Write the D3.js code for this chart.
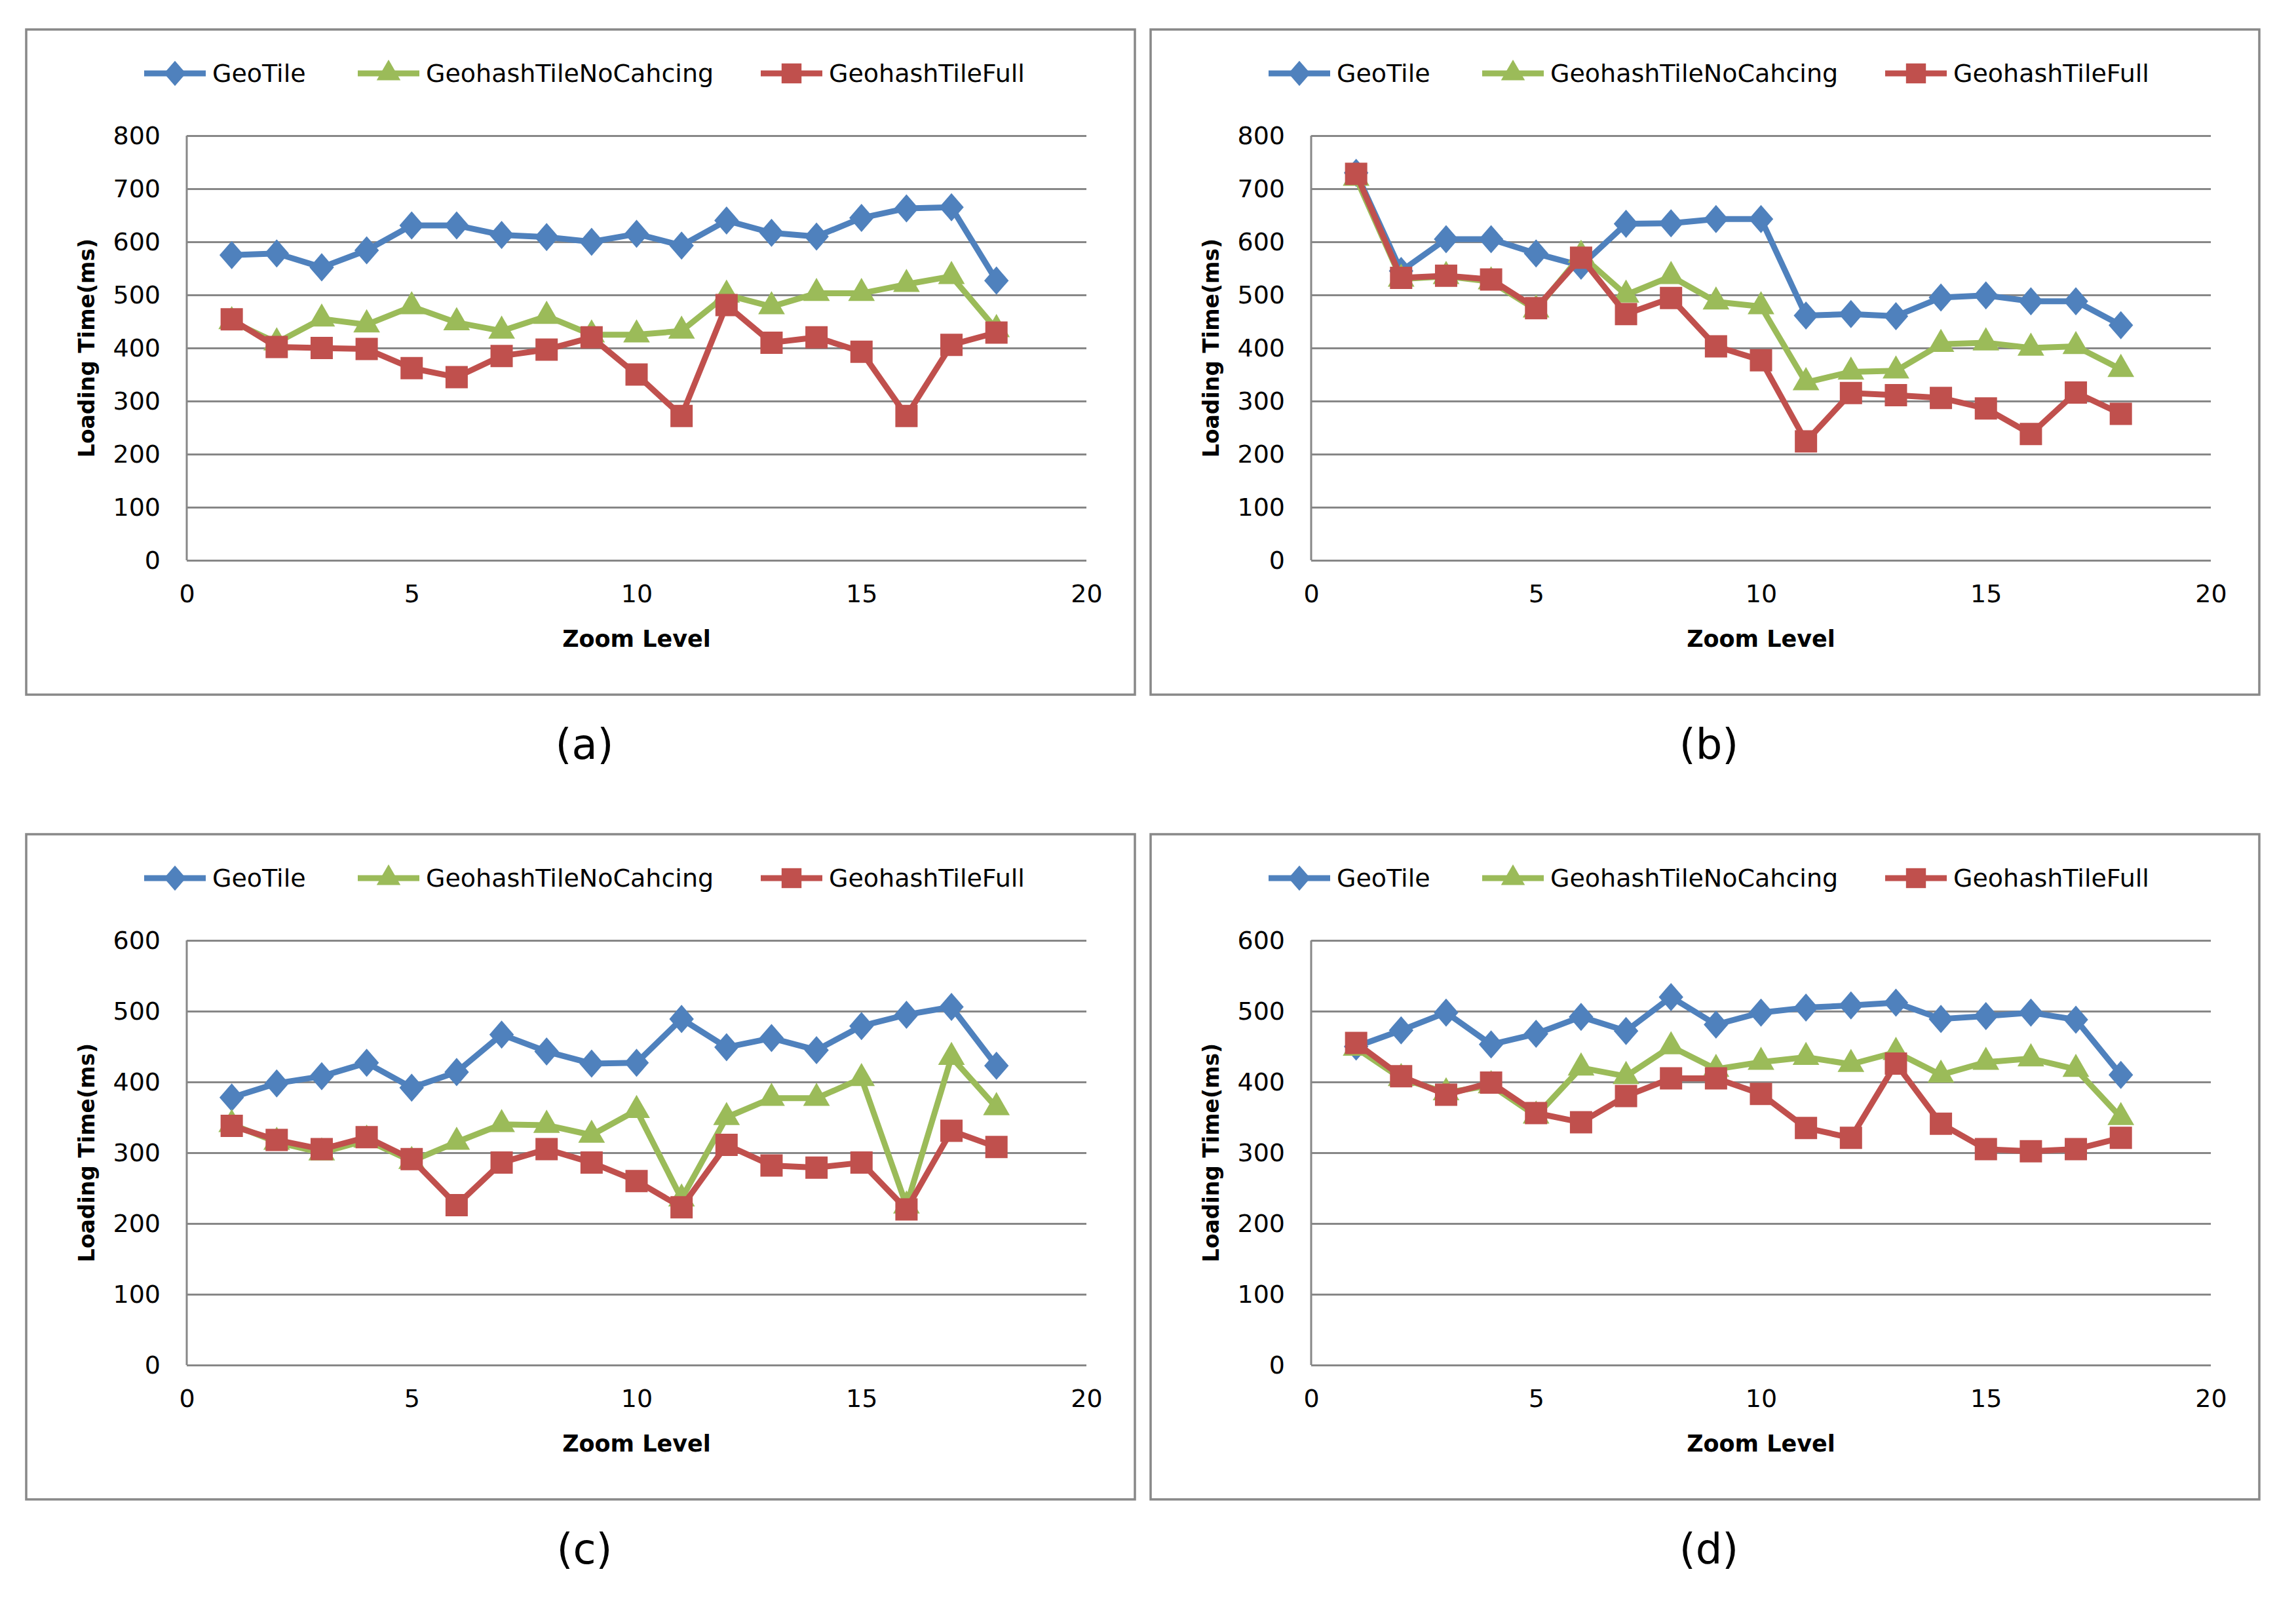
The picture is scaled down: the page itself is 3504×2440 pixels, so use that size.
<!DOCTYPE html>
<html>
<head>
<meta charset="utf-8">
<script src="https://cdn.jsdelivr.net/npm/d3@7"></script>
<style>
  body { margin: 0; background: #fff; }
  text { font-family: "DejaVu Sans", Verdana, sans-serif; }
</style>
</head>
<body>
<div id="chart"></div>
<script>
var zoomLevels = [1,2,3,4,5,6,7,8,9,10,11,12,13,14,15,16,17,18];
var seriesNames = ["GeoTile", "GeohashTileNoCahcing", "GeohashTileFull"];
var xTicks = [0,5,10,15,20];

// (a)
var geoTileA  = [575,578,552,584,631,631,613,609,600,615,593,640,617,610,645,663,665,527];
var noCacheA  = [450,410,455,444,478,448,432,460,425,425,432,500,478,503,503,520,535,435];
var fullA     = [454,402,400,398,362,345,385,397,420,350,272,481,410,420,393,272,406,429];
// (b)
var geoTileB  = [730,545,605,605,578,555,634,635,643,643,461,464,460,495,499,488,488,443];
var noCacheB  = [720,530,535,525,472,575,500,535,487,478,335,355,357,407,410,400,403,360];
var fullB     = [728,532,536,529,475,570,464,494,403,377,224,315,311,306,286,238,316,276];
// (c)
var geoTileC  = [378,398,408,427,392,414,467,443,426,427,489,449,462,445,479,495,506,423];
var noCacheC  = [340,315,300,318,288,315,340,339,325,360,235,350,377,377,405,225,435,364];
var fullC     = [338,318,305,322,291,226,286,305,286,260,223,311,282,279,286,220,331,308];
// (d)
var geoTileD  = [450,473,498,453,468,492,472,520,481,498,505,508,512,489,493,498,488,410];
var noCacheD  = [448,405,385,395,352,420,408,450,418,428,435,425,442,410,428,433,418,350];
var fullD     = [455,408,382,399,356,343,380,405,405,383,335,321,426,341,305,302,305,321];

var colors = ["#4F81BD", "#9BBB59", "#C0504D"];

var panels = [
  {cap: "(a)", left: 40,   top: 45,   yMax: 800, data: [geoTileA, noCacheA, fullA]},
  {cap: "(b)", left: 1756, top: 45,   yMax: 800, data: [geoTileB, noCacheB, fullB]},
  {cap: "(c)", left: 40,   top: 1273, yMax: 600, data: [geoTileC, noCacheC, fullC]},
  {cap: "(d)", left: 1756, top: 1273, yMax: 600, data: [geoTileD, noCacheD, fullD]}
];

var boxW = 1692, boxH = 1015;
var plotL = 245, plotT = 162, pw = 1373, ph = 648;

// excel style diamond, a bit taller than wide
var diamond = {
  draw: function(ctx, size) {
    var w = Math.sqrt(size) * 0.5, h = w * 1.15;
    ctx.moveTo(0, -h); ctx.lineTo(w, 0); ctx.lineTo(0, h); ctx.lineTo(-w, 0); ctx.closePath();
  }
};
var symbolTypes = [diamond, d3.symbolTriangle, d3.symbolSquare];
var symbolSizes = [1400, 720, 1156];

var svg = d3.select("#chart").append("svg")
  .attr("width", 3504).attr("height", 2440);

panels.forEach(function(p) {
  var g = svg.append("g").attr("transform", "translate(" + p.left + "," + p.top + ")");

  g.append("rect")
    .attr("width", boxW).attr("height", boxH)
    .attr("fill", "#fff").attr("stroke", "#888").attr("stroke-width", 3.5);

  var plot = g.append("g").attr("transform", "translate(" + plotL + "," + plotT + ")");

  var x = d3.scaleLinear().domain([0, 20]).range([0, pw]);
  var y = d3.scaleLinear().domain([0, p.yMax]).range([ph, 0]);

  var yAxis = plot.append("g")
    .call(d3.axisLeft(y).tickValues(d3.range(0, p.yMax + 1, 100)).tickSize(-pw).tickPadding(40));
  yAxis.select(".domain").remove();
  yAxis.selectAll("line").attr("stroke", "#878787").attr("stroke-width", 3);
  yAxis.selectAll("text").attr("font-size", 38).attr("fill", "#000")
    .attr("font-family", "DejaVu Sans");

  plot.append("line")
    .attr("x1", 0).attr("x2", 0).attr("y1", 0).attr("y2", ph)
    .attr("stroke", "#878787").attr("stroke-width", 3);

  var xAxis = plot.append("g").attr("transform", "translate(0," + ph + ")")
    .call(d3.axisBottom(x).tickValues(xTicks).tickSize(0).tickPadding(37));
  xAxis.select(".domain").remove();
  xAxis.selectAll("text").attr("font-size", 38).attr("fill", "#000")
    .attr("font-family", "DejaVu Sans");

  plot.append("text")
    .attr("x", pw / 2).attr("y", ph + 120)
    .attr("text-anchor", "middle").attr("dominant-baseline", "central")
    .attr("font-size", 35).attr("font-weight", "bold")
    .text("Zoom Level");

  g.append("text")
    .attr("transform", "translate(92," + (plotT + ph / 2) + ") rotate(-90)")
    .attr("text-anchor", "middle").attr("dominant-baseline", "central")
    .attr("font-size", 33).attr("font-weight", "bold")
    .text("Loading Time(ms)");

  var line = d3.line()
    .x(function(d, i) { return x(zoomLevels[i]); })
    .y(function(d) { return y(d); });

  var symbolGenerator = d3.symbol();

  p.data.forEach(function(vals, s) {
    plot.append("path")
      .datum(vals)
      .attr("d", line)
      .attr("fill", "none")
      .attr("stroke", colors[s])
      .attr("stroke-width", 9)
      .attr("stroke-linejoin", "round");

    plot.append("g").selectAll("path")
      .data(vals).enter().append("path")
      .attr("transform", function(d, i) {
        return "translate(" + x(zoomLevels[i]) + "," + y(d) + ")";
      })
      .attr("d", function() {
        symbolGenerator.size(symbolSizes[s]).type(symbolTypes[s]);
        return symbolGenerator();
      })
      .attr("fill", colors[s]);
  });

  // legend
  var legX = [180, 506, 1121];
  seriesNames.forEach(function(name, s) {
    var lg = g.append("g").attr("transform", "translate(" + legX[s] + ",67)");
    lg.append("line").attr("x1", 0).attr("x2", 94).attr("y1", 0).attr("y2", 0)
      .attr("stroke", colors[s]).attr("stroke-width", 9);
    lg.append("path")
      .attr("transform", "translate(47,0)")
      .attr("d", d3.symbol().size(symbolSizes[s] * 0.8).type(symbolTypes[s])())
      .attr("fill", colors[s]);
    lg.append("text")
      .attr("x", 104).attr("y", 0)
      .attr("dominant-baseline", "central")
      .attr("font-size", 38)
      .text(name);
  });

  svg.append("text")
    .attr("x", p.left + 852).attr("y", p.top + boxH + 76)
    .attr("text-anchor", "middle").attr("dominant-baseline", "central")
    .attr("font-family", "DejaVu Serif").attr("font-size", 64)
    .text(p.cap);
});
</script>
</body>
</html>
